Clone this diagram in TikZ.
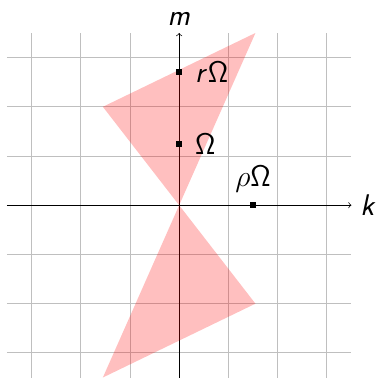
\RequirePackage{fix-cm}
\documentclass[tikz,border=0pt]{standalone}
\usepackage{tikz}
\usetikzlibrary{positioning}
\DeclareMathAlphabet{\mathsfit}{OT1}{cmss}{m}{sl}

\begin{document}
\begin{tikzpicture}[
  every node/.style={font=\LARGE},
  pt/.style={rectangle,fill=black,inner sep=0pt,minimum size=3.6pt},
  axis/.style={thin,->,>=to},
  region/.style={fill=red,fill opacity=0.25}
]
\useasboundingbox (-3.64,-3.49) rectangle (4.04,4.17);

% ------------------------------------------------------------
% Grid and axes
% ------------------------------------------------------------
\draw[gray!50,line width=0.5pt] (-3.5,-3.5) grid (3.5,3.5);

\coordinate (o) at (0,0);
\coordinate (kl) at (-3.5,0);
\coordinate (kr) at (3.5,0);
\coordinate (mb) at (0,-3.5);
\coordinate (mt) at (0,3.5);
\node[right=0pt of kr, inner sep=5pt] (klab) {$\mathsfit{k}$};
\node[above=0pt of mt, inner sep=4pt] (mlab) {$\mathsfit{m}$};
\draw[axis] (kl) -- (kr);
\draw[axis] (mb) -- (mt);

% ------------------------------------------------------------
% The two shaded triangles (meeting at the origin)
% ------------------------------------------------------------
\fill[region] (o) -- (1.55,3.5) -- (-1.55,2) -- cycle;
\fill[region] (o) -- (1.55,-2) -- (-1.55,-3.5) -- cycle;

% ------------------------------------------------------------
% Marked points
% ------------------------------------------------------------
\node[pt, label={[inner sep=7pt]right:$\mathsfit{r}\mathsf{\Omega}$}] (rw) at (0,2.7) {};
\node[pt, label={[inner sep=7pt]right:$\mathsf{\Omega}$}] (w) at (0,1.25) {};
\node[pt, label={[inner sep=5pt]above:$\rho\mathsf{\Omega}$}] (pw) at (1.5,0) {};

\end{tikzpicture}
\end{document}
